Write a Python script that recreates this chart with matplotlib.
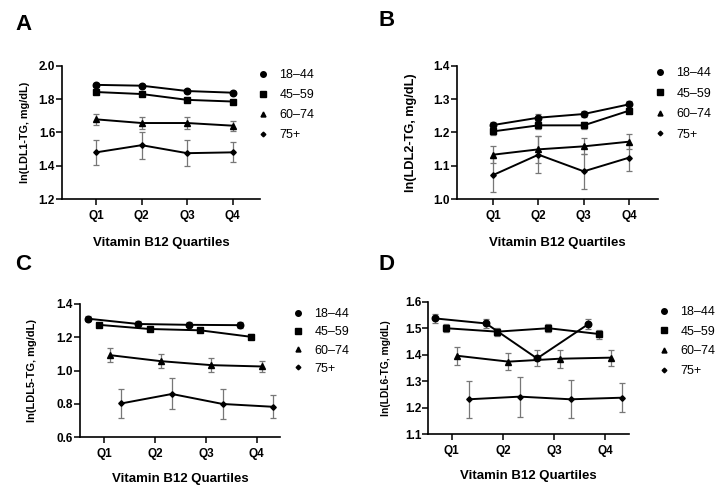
"""Four-panel LDL subfraction TG vs vitamin B12 quartiles by age group."""
import matplotlib
matplotlib.use("Agg")
import matplotlib.pyplot as plt
from matplotlib.lines import Line2D
import numpy as np

plt.rcParams["font.family"] = ["Liberation Sans", "DejaVu Sans"]

quartiles = ["Q1", "Q2", "Q3", "Q4"]
age_groups = ["18\u201344", "45\u201359", "60\u201374", "75+"]

# panel A: ln(LDL1-TG)
ldl1_mean = [
    [1.885, 1.880, 1.848, 1.838],
    [1.842, 1.830, 1.795, 1.785],
    [1.678, 1.656, 1.656, 1.640],
    [1.480, 1.523, 1.475, 1.480],
]
ldl1_err = [
    [0.010, 0.010, 0.010, 0.008],
    [0.008, 0.008, 0.008, 0.010],
    [0.035, 0.035, 0.034, 0.030],
    [0.075, 0.082, 0.077, 0.060],
]

# panel B: ln(LDL2-TG)
ldl2_mean = [
    [1.222, 1.244, 1.255, 1.284],
    [1.203, 1.221, 1.221, 1.265],
    [1.133, 1.149, 1.158, 1.172],
    [1.072, 1.133, 1.083, 1.124],
]
ldl2_err = [
    [0.010, 0.010, 0.010, 0.010],
    [0.010, 0.010, 0.010, 0.008],
    [0.025, 0.040, 0.024, 0.022],
    [0.052, 0.055, 0.053, 0.041],
]

# panel C: ln(LDL5-TG)
ldl5_mean = [
    [1.312, 1.280, 1.275, 1.273],
    [1.275, 1.250, 1.242, 1.203],
    [1.093, 1.057, 1.033, 1.025],
    [0.803, 0.860, 0.800, 0.783],
]
ldl5_err = [
    [0.015, 0.015, 0.015, 0.020],
    [0.012, 0.012, 0.012, 0.015],
    [0.040, 0.040, 0.040, 0.035],
    [0.085, 0.093, 0.088, 0.070],
]

# panel D: ln(LDL6-TG)
ldl6_mean = [
    [1.537, 1.518, 1.386, 1.515],
    [1.500, 1.487, 1.500, 1.478],
    [1.396, 1.374, 1.385, 1.389],
    [1.232, 1.242, 1.232, 1.238],
]
ldl6_err = [
    [0.018, 0.018, 0.030, 0.018],
    [0.015, 0.015, 0.015, 0.017],
    [0.034, 0.033, 0.034, 0.030],
    [0.070, 0.075, 0.072, 0.054],
]

markers = ["o", "s", "^", "D"]
msizes = [4.7, 4.7, 4.2, 2.8]

W, H = 722, 488


def px_axes(fig, left, right, top, bottom):
    return fig.add_axes([left / W, 1 - bottom / H, (right - left) / W, (bottom - top) / H])


def panel(fig, box, means, errs, ylabel, ylim, yticks, xlim, offsets,
          ylab_x, ylab_size, xlab_pad, leg_anchor, leg_spacing):
    ax = px_axes(fig, *box)
    x = np.arange(1, len(quartiles) + 1)
    for i, grp in enumerate(age_groups):
        ax.errorbar(x + offsets[i], means[i], yerr=errs[i], color="black", lw=1.4,
                    marker=markers[i], ms=msizes[i], ecolor="#777777", elinewidth=0.9,
                    capsize=2.5, capthick=0.9, zorder=3)
    ax.set_xlim(*xlim)
    ax.set_ylim(*ylim)
    ax.set_yticks(yticks)
    ax.set_yticklabels([f"{v:.1f}" for v in yticks])
    ax.set_xticks(x)
    ax.set_xticklabels(quartiles)
    for s in ["top", "right"]:
        ax.spines[s].set_visible(False)
    for s in ["left", "bottom"]:
        ax.spines[s].set_linewidth(1.2)
    ax.tick_params(axis="both", length=4, width=1.1, labelsize=8.5)
    ax.tick_params(axis="y", pad=1)
    ax.tick_params(axis="x", pad=4)
    for lab in ax.get_xticklabels() + ax.get_yticklabels():
        lab.set_fontweight("bold")
    ax.set_ylabel(ylabel, fontsize=ylab_size, fontweight="bold")
    ax.yaxis.set_label_coords(ylab_x, 0.5)
    ax.set_xlabel("Vitamin B12 Quartiles", fontsize=9.5, fontweight="bold", labelpad=xlab_pad)
    handles = [Line2D([], [], ls="none", marker=m, ms=ms * 0.85, color="black")
               for m, ms in zip(markers, msizes)]
    ax.legend(handles, age_groups, loc="upper left", bbox_to_anchor=leg_anchor,
              bbox_transform=fig.transFigure, frameon=False, fontsize=9,
              handlelength=0.8, handletextpad=0.9, labelspacing=leg_spacing,
              borderaxespad=0, borderpad=0)
    return ax


fig = plt.figure(figsize=(W / 100, H / 100), dpi=100)

same = [0, 0, 0, 0]
dodge = [-0.33, -0.11, 0.11, 0.33]

panel(fig, (62, 260, 65.7, 199), ldl1_mean, ldl1_err, "ln(LDL1-TG, mg/dL)",
      (1.2, 2.0), [1.2, 1.4, 1.6, 1.8, 2.0], (0.25, 4.6), same,
      -0.16, 7.8, 11, (258 / W, 1 - 69 / H), 0.65)
panel(fig, (457, 658, 65.7, 199), ldl2_mean, ldl2_err, "ln(LDL2-TG, mg/dL)",
      (1.0, 1.4), [1.0, 1.1, 1.2, 1.3, 1.4], (0.2, 4.64), same,
      -0.2, 9.2, 11, (655 / W, 1 - 67 / H), 0.68)
panel(fig, (80, 280, 304, 437.3), ldl5_mean, ldl5_err, "ln(LDL5-TG, mg/dL)",
      (0.6, 1.4), [0.6, 0.8, 1.0, 1.2, 1.4], (0.52, 4.46), dodge,
      -0.215, 7.9, 9, (293 / W, 1 - 308 / H), 0.5)
panel(fig, (428.3, 629, 301.7, 434.3), ldl6_mean, ldl6_err, "ln(LDL6-TG, mg/dL)",
      (1.1, 1.6), [1.1, 1.2, 1.3, 1.4, 1.5, 1.6], (0.54, 4.47), dodge,
      -0.185, 7.4, 9, (659 / W, 1 - 306 / H), 0.62)

for letter, (lx, ly) in zip("ABCD", [(15, 24), (378, 20), (15, 264), (378, 264)]):
    fig.text(lx / W, 1 - ly / H, letter, fontsize=16, fontweight="bold",
             ha="left", va="center")

fig.savefig("out.png", dpi=100)
